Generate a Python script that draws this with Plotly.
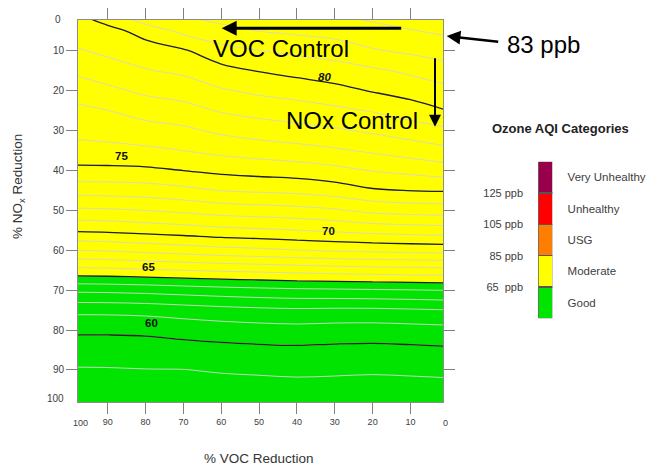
import plotly.graph_objects as go

# ---------------- data ----------------
voc_reduction = [100, 90, 80, 70, 60, 50, 40, 30, 20, 10, 0]          # % VOC reduction (columns)
nox_reduction = [0, 5, 10, 15, 20, 25, 30, 35, 40, 45, 50,
                 55, 60, 65, 70, 75, 80, 85, 90, 95, 100]              # % NOx reduction (rows)
# peak ozone (ppb) estimated from the isopleths, rows follow nox_reduction, columns voc_reduction
ozone_ppb = [
    [79.98, 80.95, 82.17, 82.29, 82.49, 82.63, 82.85, 83.12, 83.40, 83.65, 83.86],
    [79.44, 79.62, 80.40, 81.24, 81.73, 82.01, 82.19, 82.38, 82.67, 82.94, 83.19],
    [78.82, 79.21, 79.50, 79.88, 80.63, 80.96, 81.22, 81.45, 81.90, 82.17, 82.45],
    [78.11, 78.53, 78.93, 79.18, 79.67, 80.04, 80.30, 80.53, 80.82, 81.17, 81.62],
    [77.35, 77.77, 78.19, 78.43, 78.89, 79.19, 79.41, 79.70, 80.06, 80.40, 80.74],
    [76.74, 76.98, 77.38, 77.63, 78.08, 78.35, 78.54, 78.77, 79.06, 79.50, 80.00],
    [76.26, 76.39, 76.60, 76.79, 77.18, 77.45, 77.65, 77.86, 78.15, 78.46, 78.80],
    [75.63, 75.70, 75.81, 76.00, 76.26, 76.46, 76.64, 76.86, 77.14, 77.46, 77.78],
    [74.76, 74.76, 74.81, 75.00, 75.23, 75.36, 75.48, 75.71, 76.04, 76.24, 76.52],
    [73.38, 73.42, 73.51, 73.73, 74.02, 74.14, 74.24, 74.47, 74.88, 75.02, 75.08],
    [71.81, 71.87, 72.00, 72.19, 72.42, 72.54, 72.67, 72.88, 73.24, 73.39, 73.47],
    [70.11, 70.20, 70.36, 70.53, 70.73, 70.84, 70.98, 71.14, 71.34, 71.45, 71.53],
    [67.98, 68.08, 68.26, 68.45, 68.65, 68.79, 68.97, 69.10, 69.20, 69.28, 69.37],
    [65.68, 65.75, 65.86, 66.00, 66.12, 66.22, 66.34, 66.45, 66.54, 66.61, 66.67],
    [63.19, 63.23, 63.32, 63.46, 63.60, 63.71, 63.80, 63.84, 63.90, 63.95, 64.02],
    [61.25, 61.26, 61.33, 61.49, 61.65, 61.77, 61.84, 61.80, 61.80, 61.88, 61.97],
    [60.16, 60.16, 60.20, 60.35, 60.48, 60.57, 60.63, 60.56, 60.54, 60.60, 60.68],
    [59.49, 59.50, 59.53, 59.62, 59.70, 59.77, 59.81, 59.76, 59.73, 59.78, 59.84],
    [58.92, 58.93, 58.97, 58.98, 59.08, 59.14, 59.20, 59.16, 59.12, 59.16, 59.22],
    [58.50, 58.50, 58.55, 58.58, 58.58, 58.61, 58.64, 58.63, 58.60, 58.63, 58.66],
    [58.08, 58.10, 58.12, 58.14, 58.10, 58.12, 58.12, 58.12, 58.10, 58.12, 58.13],
]
tick_values = [90, 80, 70, 60, 50, 40, 30, 20, 10]
labeled_levels = [80, 75, 70, 65, 60]
label_voc = [32.7, 86.4, 31.6, 79.1, 78.5]
label_nox = [16.5, 36.3, 55.1, 64.1, 78.3]

aqi_categories = ["Good", "Moderate", "USG", "Unhealthy", "Very Unhealthy"]
aqi_colors = ["#00e400", "#ffff00", "#ff7e00", "#ff0000", "#99004c"]
aqi_breaks = [1, 2, 3, 4]
aqi_break_labels = ["65\u00a0\u00a0ppb", "85 ppb", "105 ppb", "125 ppb"]

GREEN = "#00e400"
YELLOW = "#ffff00"
FONT = "Liberation Sans, Arial, sans-serif"
W, H = 658, 468


def px(x):
    return x / W


def py(y):
    return 1 - y / H


fig = go.Figure()

# filled AQI regions (below / above 65 ppb)
fig.add_trace(go.Contour(
    x=voc_reduction, y=nox_reduction, z=ozone_ppb,
    contours=dict(start=65, end=85, size=20, coloring="fill"),
    colorscale=[[0, GREEN], [0.15, GREEN], [0.15, YELLOW], [1, YELLOW]],
    line=dict(width=0), showscale=False, hoverinfo="skip",
))
# thin 1-ppb isopleths
fig.add_trace(go.Contour(
    x=voc_reduction, y=nox_reduction, z=ozone_ppb,
    contours=dict(start=58, end=84, size=1, coloring="none"),
    line=dict(color="rgba(214,214,205,0.9)", width=1, smoothing=1),
    showscale=False, hoverinfo="skip",
))
# bold 5-ppb isopleths
fig.add_trace(go.Contour(
    x=voc_reduction, y=nox_reduction, z=ozone_ppb,
    contours=dict(start=60, end=80, size=5, coloring="none"),
    line=dict(color="#1e1e1e", width=1.3, smoothing=1),
    showscale=False, hoverinfo="skip",
))

# AQI legend bar
for cat, col in zip(aqi_categories, aqi_colors):
    fig.add_trace(go.Bar(
        x=[0], y=[1], width=1, name=cat, xaxis="x2", yaxis="y2",
        marker=dict(color=col, line=dict(color="#555555", width=1.2)),
        hoverinfo="skip", showlegend=False,
    ))
fig.add_trace(go.Scatter(x=[0], y=[0.5], xaxis="x2", yaxis="y3", mode="markers",
                         marker=dict(opacity=0), hoverinfo="skip", showlegend=False))

axis_common = dict(
    ticks="outside", ticklen=11, tickwidth=1, tickcolor="#808080",
    showline=True, linecolor="#8c8c8c", linewidth=1, mirror="ticks",
    showgrid=False, zeroline=False, automargin=False,
    tickmode="array", tickvals=tick_values,
)

annotations = []
# contour labels
for lv, xv, yv in zip(labeled_levels, label_voc, label_nox):
    txt = f"<i><b>{lv}</b></i>" if lv == 80 else f"<b>{lv}</b>"
    annotations.append(dict(x=xv, y=yv, xref="x", yref="y", text=txt, showarrow=False,
                            font=dict(family=FONT, size=11.5, color="#111111")))
# edge tick labels
annotations += [
    dict(x=px(63), y=py(20), xref="paper", yref="paper", text="0", showarrow=False,
         xanchor="right", yanchor="middle", font=dict(family=FONT, size=10, color="#404040")),
    dict(x=px(66), y=py(398), xref="paper", yref="paper", text="100", showarrow=False,
         xanchor="right", yanchor="middle", font=dict(family=FONT, size=10, color="#404040")),
    dict(x=px(80), y=py(423), xref="paper", yref="paper", text="100", showarrow=False,
         xanchor="center", yanchor="middle", font=dict(family=FONT, size=9, color="#404040")),
    dict(x=px(445), y=py(423), xref="paper", yref="paper", text="0", showarrow=False,
         xanchor="center", yanchor="middle", font=dict(family=FONT, size=9, color="#404040")),
]
# axis titles
annotations += [
    dict(x=px(18), y=py(187), xref="paper", yref="paper", text="% NO<sub>x</sub> Reduction",
         showarrow=False, textangle=-90, xanchor="center", yanchor="middle",
         font=dict(family=FONT, size=13.5, color="#333333")),
    dict(x=px(259), y=py(458), xref="paper", yref="paper", text="% VOC Reduction",
         showarrow=False, xanchor="center", yanchor="middle",
         font=dict(family=FONT, size=13.5, color="#333333")),
]
# control annotations
annotations += [
    dict(x=px(281), y=py(49), xref="paper", yref="paper", text="VOC Control", showarrow=False,
         xanchor="center", yanchor="middle", font=dict(family=FONT, size=24, color="black")),
    dict(x=px(351.7), y=py(121), xref="paper", yref="paper", text="NOx Control", showarrow=False,
         xanchor="center", yanchor="middle", font=dict(family=FONT, size=24, color="black")),
    dict(x=px(543.3), y=py(44), xref="paper", yref="paper", text="83 ppb", showarrow=False,
         xanchor="center", yanchor="middle", font=dict(family=FONT, size=24, color="black")),
    dict(x=px(221.7), y=py(28.3), xref="paper", yref="paper", text="", showarrow=True,
         ax=181, ay=0, arrowhead=2, arrowsize=1, arrowwidth=3, arrowcolor="black"),
    dict(x=px(435), y=py(126.7), xref="paper", yref="paper", text="", showarrow=True,
         ax=0, ay=-70, arrowhead=2, arrowsize=1.2, arrowwidth=2, arrowcolor="black"),
    dict(x=px(446.7), y=py(36), xref="paper", yref="paper", text="", showarrow=True,
         ax=53, ay=6, arrowhead=2, arrowsize=1.1, arrowwidth=2.5, arrowcolor="black"),
    dict(x=px(560.8), y=py(128.3), xref="paper", yref="paper", text="<b>Ozone AQI Categories</b>",
         showarrow=False, xanchor="center", yanchor="middle",
         font=dict(family=FONT, size=13, color="#222222")),
]

fig.update_layout(
    width=W, height=H,
    margin=dict(l=0, r=0, t=0, b=0),
    paper_bgcolor="white", plot_bgcolor="white",
    showlegend=False, hovermode=False,
    barmode="stack", bargap=0,
    font=dict(family=FONT, color="#404040"),
    xaxis=dict(domain=[78 / W, 443 / W], anchor="y", range=[97.86, 1.4],
               tickfont=dict(family=FONT, size=9, color="#404040"), **axis_common),
    yaxis=dict(domain=[(H - 402) / H, (H - 20) / H], anchor="x", range=[98.03, 2.23],
               tickfont=dict(family=FONT, size=10, color="#404040"), **axis_common),
    xaxis2=dict(domain=[538.3 / W, 552.3 / W], anchor="y2", range=[-0.5, 0.5], visible=False),
    yaxis2=dict(domain=[(H - 318.3) / H, (H - 161.7) / H], anchor="x2", range=[0, 5],
                tickmode="array", tickvals=aqi_breaks, ticktext=aqi_break_labels,
                ticks="outside", ticklen=12, tickcolor="rgba(0,0,0,0)",
                showgrid=False, zeroline=False, showline=False, automargin=False,
                tickfont=dict(family=FONT, size=11, color="#404040")),
    yaxis3=dict(overlaying="y2", side="right", anchor="x2", range=[0, 5],
                tickmode="array", tickvals=[0.5, 1.5, 2.5, 3.5, 4.5], ticktext=aqi_categories,
                ticks="outside", ticklen=12, tickcolor="rgba(0,0,0,0)",
                showgrid=False, zeroline=False, showline=False, automargin=False,
                tickfont=dict(family=FONT, size=11.5, color="#404040")),
    annotations=annotations,
)

fig.write_html(
    "out.html",
    config={"displayModeBar": False, "staticPlot": True},
    post_script="document.body.style.margin='0px';document.body.style.overflow='hidden';",
)
